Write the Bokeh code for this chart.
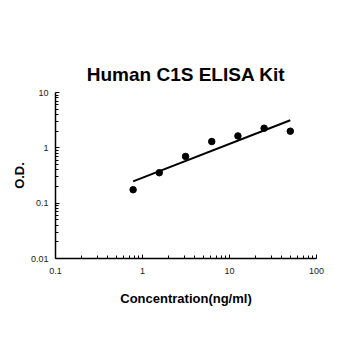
import numpy as np
from bokeh.plotting import figure
from bokeh.models import FixedTicker, CustomJSTickFormatter, Range1d
from bokeh.embed import file_html
from bokeh.resources import INLINE

title_text = "Human C1S ELISA Kit"
x_label = "Concentration(ng/ml)"
y_label = "O.D."

conc = [0.78, 1.56, 3.125, 6.25, 12.5, 25, 50]
od = [0.175, 0.355, 0.70, 1.30, 1.64, 2.26, 2.00]

x_major = [0.1, 1, 10, 100]
y_major = [0.01, 0.1, 1, 10]

# log-log least squares fit of the standard curve
lx = np.log10(conc)
ly = np.log10(od)
slope, intercept = np.polyfit(lx, ly, 1)
fit_x = np.array([min(conc), max(conc)])
fit_y = 10 ** (intercept + slope * np.log10(fit_x))

FONT = "Liberation Sans"

p = figure(width=350, height=350, x_axis_type="log", y_axis_type="log",
           x_range=Range1d(0.1, 100), y_range=Range1d(0.01, 10),
           output_backend="svg", toolbar_location=None,
           min_border_left=55, min_border_right=34, min_border_top=92, min_border_bottom=92)

p.title.text = title_text
p.title.align = "center"
p.title.text_font = FONT
p.title.text_font_size = "19px"
p.title.text_font_style = "bold"
p.title.text_color = "black"
p.title.standoff = 16

p.grid.visible = False
p.outline_line_color = None
p.background_fill_color = "white"
p.border_fill_color = "white"

def minors(majors):
    out = []
    for m in majors[:-1]:
        out += [m * k for k in range(2, 10)]
    return out

fmt = CustomJSTickFormatter(code="return Number(tick.toPrecision(6)).toString();")

p.xaxis.ticker = FixedTicker(ticks=x_major, minor_ticks=minors(x_major))
p.yaxis.ticker = FixedTicker(ticks=y_major, minor_ticks=minors(y_major))
p.xaxis.formatter = fmt
p.yaxis.formatter = fmt

for ax in (p.xaxis, p.yaxis):
    ax.axis_line_color = "black"
    ax.axis_line_width = 1.5
    ax.major_tick_in = 4
    ax.major_tick_out = 0
    ax.minor_tick_in = 3
    ax.minor_tick_out = 0
    ax.major_tick_line_color = "black"
    ax.minor_tick_line_color = "black"
    ax.major_label_text_font = FONT
    ax.major_label_text_font_size = "9px"
    ax.major_label_text_color = "#222222"
    ax.axis_label_text_font = FONT
    ax.axis_label_text_font_size = "13px"
    ax.axis_label_text_font_style = "bold"
    ax.axis_label_text_color = "black"

p.xaxis.axis_label = x_label
p.yaxis.axis_label = y_label
p.xaxis.major_label_standoff = 9
p.yaxis.major_label_standoff = 7
p.xaxis.axis_label_standoff = 14
p.yaxis.axis_label_standoff = 1

p.line(fit_x, fit_y, line_color="black", line_width=2)
p.scatter(conc, od, size=6.5, color="black")

open("out.html", "w").write(file_html(p, INLINE))
